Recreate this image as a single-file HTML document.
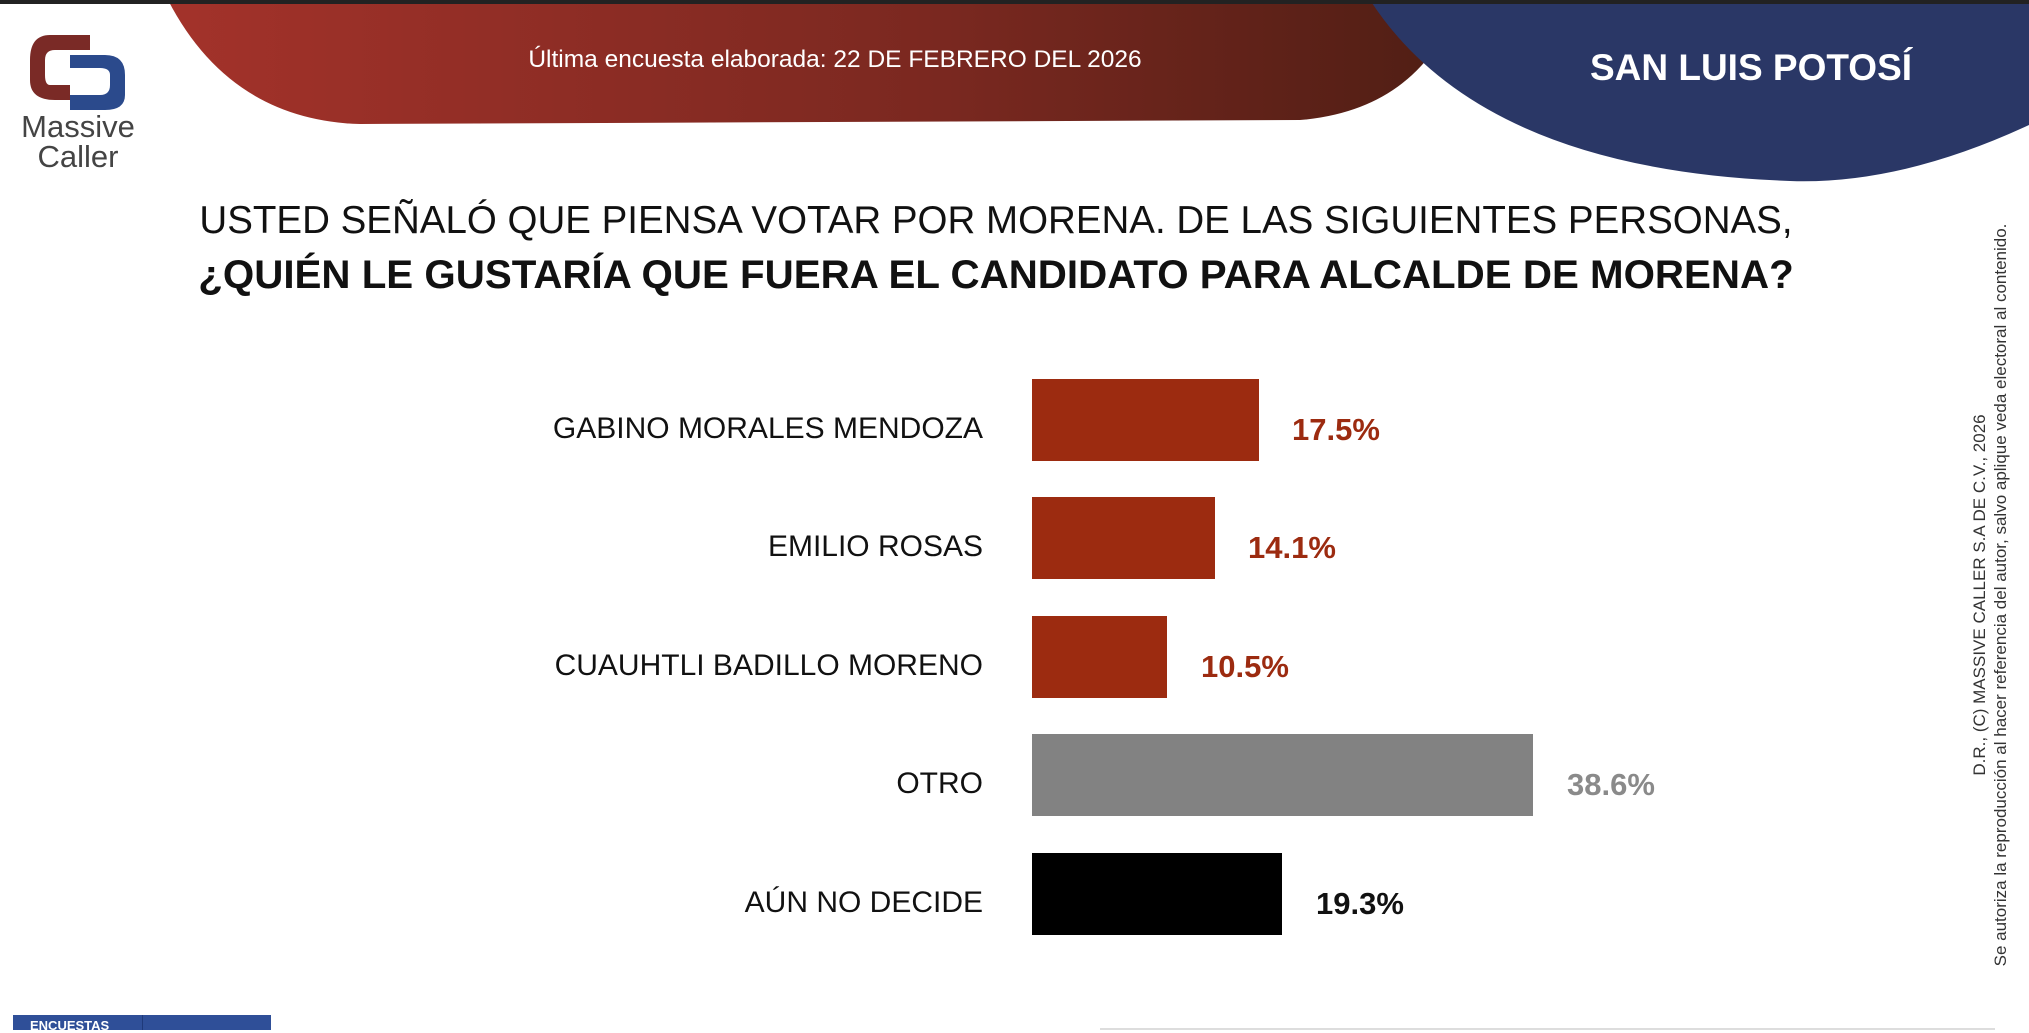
<!DOCTYPE html>
<html><head><meta charset="utf-8"><style>
*{margin:0;padding:0;box-sizing:border-box}
body{width:2029px;height:1030px;background:#fff;position:relative;overflow:hidden;font-family:"Liberation Sans",sans-serif}
.abs{position:absolute}
.lbl{position:absolute;right:1046px;font-size:30px;color:#111;white-space:nowrap;line-height:82px;margin-top:9px}
.bar{position:absolute;left:1032px;height:82px}
.val{position:absolute;font-size:31px;font-weight:bold;line-height:82px;margin-top:10px}
</style></head><body>
<svg class="abs" style="left:0;top:0" width="2029" height="240">
<defs><linearGradient id="rg" x1="0" x2="1"><stop offset="0" stop-color="#a3322a"/><stop offset="0.6" stop-color="#7a2820"/><stop offset="1" stop-color="#4f1e14"/></linearGradient></defs>
<path d="M168,0 L1460,0 Q1420,110 1300,120 L360,124 Q230,120 168,0 Z" fill="url(#rg)"/>
<path d="M1370,0 L2029,0 L2029,125 Q1900,185 1790,181 Q1480,170 1370,0 Z" fill="#2a3766"/>
<rect x="0" y="0" width="2029" height="4" fill="#222"/>
<path d="M50,35 Q30,35 30,60 L30,80 Q30,100 55,100 L70,100 L70,85 L50,85 Q45,85 45,75 L45,60 Q45,50 55,50 L90,50 L90,35 Z" fill="#7a2a26"/>
<path d="M70,55 L105,55 Q125,55 125,75 L125,95 Q125,110 105,110 L70,110 L70,95 L100,95 Q110,95 110,85 L110,75 Q110,68 100,68 L70,68 Z" fill="#2b4a8c"/>
</svg>
<div class="abs" style="left:8px;top:112px;font-size:31px;color:#444;line-height:30px;text-align:center;width:140px">Massive<br>Caller</div>
<div class="abs" style="left:0;width:1670px;top:46px;text-align:center;font-size:24.5px;color:#fff">Última encuesta elaborada: 22 DE FEBRERO DEL 2026</div>
<div class="abs" style="left:1551px;width:400px;top:47px;text-align:center;font-size:37px;font-weight:bold;color:#fff;white-space:nowrap">SAN LUIS POTOSÍ</div>
<div class="abs" style="left:0;width:1992px;top:194px;text-align:center;font-size:38.5px;color:#111;line-height:54px;white-space:nowrap">USTED SEÑALÓ QUE PIENSA VOTAR POR MORENA. DE LAS SIGUIENTES PERSONAS,<br><b style="font-size:40.3px">¿QUIÉN LE GUSTARÍA QUE FUERA EL CANDIDATO PARA ALCALDE DE MORENA?</b></div>

<div class="lbl" style="top:379px">GABINO MORALES MENDOZA</div>
<div class="bar" style="top:379px;width:227px;background:#9c2b10"></div>
<div class="val" style="top:379px;left:1292px;color:#9c2b10">17.5%</div>

<div class="lbl" style="top:497px">EMILIO ROSAS</div>
<div class="bar" style="top:497px;width:183px;background:#9c2b10"></div>
<div class="val" style="top:497px;left:1248px;color:#9c2b10">14.1%</div>

<div class="lbl" style="top:616px">CUAUHTLI BADILLO MORENO</div>
<div class="bar" style="top:616px;width:135px;background:#9c2b10"></div>
<div class="val" style="top:616px;left:1201px;color:#9c2b10">10.5%</div>

<div class="lbl" style="top:734px">OTRO</div>
<div class="bar" style="top:734px;width:501px;background:#828282"></div>
<div class="val" style="top:734px;left:1567px;color:#8a8a8a">38.6%</div>

<div class="lbl" style="top:853px">AÚN NO DECIDE</div>
<div class="bar" style="top:853px;width:250px;background:#000"></div>
<div class="val" style="top:853px;left:1316px;color:#111">19.3%</div>

<div class="abs" style="left:1990px;top:595px;width:0;height:0">
<div style="position:absolute;transform:translate(-50%,-50%) rotate(-90deg);white-space:nowrap;text-align:center;font-size:17px;color:#333;line-height:21px">D.R., (C) MASSIVE CALLER S.A DE C.V., 2026<br>Se autoriza la reproducción al hacer referencia del autor, salvo aplique veda electoral al contenido.</div>
</div>
<div class="abs" style="left:13px;top:1015px;width:258px;height:15px;background:#2f4f98"></div>
<div class="abs" style="left:13px;top:1015px;width:130px;height:15px;border-right:1px solid #1f3a7a"></div>
<div class="abs" style="left:30px;top:1018px;font-size:13px;font-weight:bold;color:#fff">ENCUESTAS</div>
<div class="abs" style="left:1100px;top:1028px;width:895px;height:2px;background:#ddd"></div>
</body></html>
